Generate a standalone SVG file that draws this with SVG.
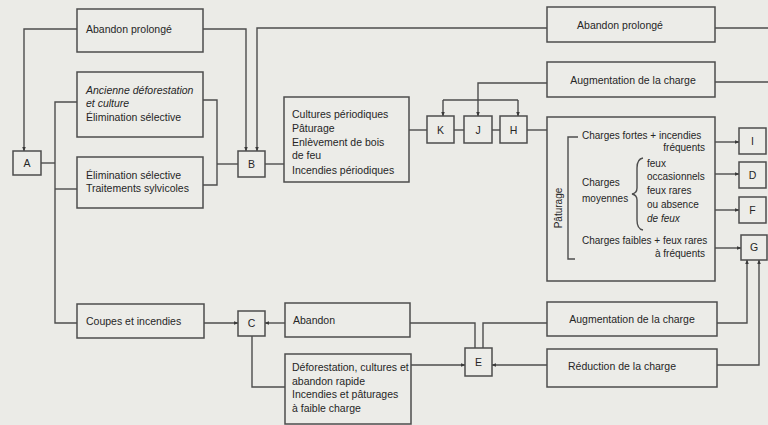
<svg xmlns="http://www.w3.org/2000/svg" width="768" height="425" viewBox="0 0 768 425">
<defs>
<style>
.bg{fill:#ebebe7}
.box{fill:#ecece8;stroke:#4d4d4d;stroke-width:1.5}
.t{font-family:"Liberation Sans",Arial,sans-serif;font-size:10.5px;fill:#262626}
.s{font-size:10px}
.i{font-style:italic}
.c{text-anchor:middle}
.r{text-anchor:end}
.ln{fill:none;stroke:#4d4d4d;stroke-width:1.4}
.ar{fill:none;stroke:#4d4d4d;stroke-width:1.4;marker-end:url(#ah)}
</style>
<marker id="ah" viewBox="0 0 8 8" refX="7" refY="4" markerWidth="5" markerHeight="5" markerUnits="userSpaceOnUse" orient="auto">
<path d="M0,1 L8,4 L0,7 z" fill="#3a3a3a"/>
</marker>
</defs>
<rect class="bg" x="0" y="0" width="768" height="425"/>

<g id="connectors">
<polyline class="ar" points="77,29 24,29 24,151"/>
<polyline class="ar" points="203,29 246,29 246,151"/>
<polyline class="ar" points="547,28 257,28 257,151"/>
<polyline class="ln" points="41,163 55,163"/>
<polyline class="ln" points="77,102 55,102 55,323 77,323"/>
<polyline class="ln" points="55,189 77,189"/>
<polyline class="ln" points="203,100 217,100 217,185 203,185"/>
<polyline class="ln" points="217,164 238,164"/>
<polyline class="ln" points="265,164 284,164"/>
<polyline class="ln" points="409,130 427,130"/>
<polyline class="ln" points="454,130 464,130"/>
<polyline class="ln" points="492,130 500,130"/>
<polyline class="ln" points="527,130 547,130"/>
<polyline class="ar" points="547,83 478,83 478,116"/>
<polyline class="ln" points="443,100 518,100"/>
<polyline class="ar" points="443,100 443,116"/>
<polyline class="ar" points="518,100 518,116"/>
<polyline class="ln" points="715,28 768,28"/>
<polyline class="ln" points="715,82 768,82"/>
<polyline class="ar" points="715,142 739,142"/>
<polyline class="ar" points="715,174 739,174"/>
<polyline class="ar" points="715,210 739,210"/>
<polyline class="ar" points="715,248 741,248"/>
<polyline class="ar" points="717,323 747,323 747,260"/>
<polyline class="ar" points="717,365 759,365 759,260"/>
<polyline class="ar" points="204,323 238,323"/>
<polyline class="ar" points="285,323 265,323"/>
<polyline class="ln" points="252,336 252,387 285,387"/>
<polyline class="ln" points="410,323 475,323 475,348"/>
<polyline class="ln" points="483,348 483,323 547,323"/>
<polyline class="ar" points="411,365 465,365"/>
<polyline class="ar" points="547,365 492,365"/>
</g>

<g id="n-abandon-prolonge-1">
<rect class="box" x="77" y="9" width="126" height="43"/>
<text class="t" x="86" y="33">Abandon prolongé</text>
</g>
<g id="n-ancienne">
<rect class="box" x="77" y="72" width="126" height="65"/>
<text class="t i" x="86" y="94">Ancienne déforestation</text>
<text class="t i" x="86" y="107">et culture</text>
<text class="t" x="86" y="121">Élimination sélective</text>
</g>
<g id="n-elimination">
<rect class="box" x="77" y="157" width="126" height="51"/>
<text class="t" x="86" y="179">Élimination sélective</text>
<text class="t" x="86" y="192">Traitements sylvicoles</text>
</g>
<g id="n-A">
<rect class="box" x="13" y="151" width="28" height="24"/>
<text class="t c" x="27" y="167">A</text>
</g>
<g id="n-B">
<rect class="box" x="238" y="151" width="27" height="26"/>
<text class="t c" x="251.5" y="168">B</text>
</g>
<g id="n-cultures">
<rect class="box" x="284" y="97" width="125" height="85"/>
<text class="t" x="292" y="118">Cultures périodiques</text>
<text class="t" x="292" y="132">Pâturage</text>
<text class="t" x="292" y="146">Enlèvement de bois</text>
<text class="t" x="292" y="159">de feu</text>
<text class="t" x="292" y="174">Incendies périodiques</text>
</g>
<g id="n-K">
<rect class="box" x="427" y="116" width="27" height="27"/>
<text class="t c" x="440.5" y="134">K</text>
</g>
<g id="n-J">
<rect class="box" x="464" y="116" width="28" height="27"/>
<text class="t c" x="478" y="134">J</text>
</g>
<g id="n-H">
<rect class="box" x="500" y="116" width="27" height="27"/>
<text class="t c" x="513.5" y="134">H</text>
</g>
<g id="n-abandon-prolonge-2">
<rect class="box" x="547" y="7" width="168" height="35"/>
<text class="t c" x="620" y="29">Abandon prolongé</text>
</g>
<g id="n-augmentation-1">
<rect class="box" x="547" y="62" width="168" height="35"/>
<text class="t c" x="633" y="84">Augmentation de la charge</text>
</g>
<g id="n-paturage">
<rect class="box" x="547" y="117" width="168" height="164"/>
<text class="t s c" transform="translate(562,208) rotate(-90)">Pâturage</text>
<polyline class="ln" points="578,137 568,137 568,259 575,259"/>
<text class="t s" x="582" y="139">Charges fortes + incendies</text>
<text class="t s r" x="705" y="151">fréquents</text>
<text class="t s" x="582" y="186">Charges</text>
<text class="t s" x="582" y="202">moyennes</text>
<path class="ln" d="M643,158 Q637,159 637,168 L637,188 Q637,193 632,194 Q637,195 637,200 L637,220 Q637,229 643,230" stroke-width="1.2"/>
<text class="t s" x="647" y="167">feux</text>
<text class="t s" x="647" y="180">occasionnels</text>
<text class="t s" x="647" y="194">feux rares</text>
<text class="t s" x="647" y="208">ou absence</text>
<text class="t s i" x="647" y="222">de feux</text>
<text class="t s" x="582" y="244">Charges faibles + feux rares</text>
<text class="t s r" x="705" y="257">à fréquents</text>
</g>
<g id="n-I">
<rect class="box" x="739" y="128" width="27" height="26"/>
<text class="t c" x="752.5" y="145">I</text>
</g>
<g id="n-D">
<rect class="box" x="739" y="162" width="27" height="26"/>
<text class="t c" x="752.5" y="179">D</text>
</g>
<g id="n-F">
<rect class="box" x="739" y="197" width="27" height="26"/>
<text class="t c" x="752.5" y="214">F</text>
</g>
<g id="n-G">
<rect class="box" x="741" y="235" width="26" height="25"/>
<text class="t c" x="754" y="251">G</text>
</g>
<g id="n-coupes">
<rect class="box" x="77" y="304" width="127" height="34"/>
<text class="t" x="86" y="325">Coupes et incendies</text>
</g>
<g id="n-C">
<rect class="box" x="238" y="311" width="27" height="25"/>
<text class="t c" x="251.5" y="327">C</text>
</g>
<g id="n-abandon">
<rect class="box" x="285" y="303" width="125" height="34"/>
<text class="t" x="293" y="324">Abandon</text>
</g>
<g id="n-deforestation">
<rect class="box" x="285" y="354" width="126" height="70"/>
<text class="t" x="292" y="371">Déforestation, cultures et</text>
<text class="t" x="292" y="385">abandon rapide</text>
<text class="t" x="292" y="398">Incendies et pâturages</text>
<text class="t" x="292" y="412">à faible charge</text>
</g>
<g id="n-E">
<rect class="box" x="465" y="348" width="27" height="28"/>
<text class="t c" x="478.5" y="366">E</text>
</g>
<g id="n-augmentation-2">
<rect class="box" x="547" y="302" width="170" height="34"/>
<text class="t c" x="632" y="323">Augmentation de la charge</text>
</g>
<g id="n-reduction">
<rect class="box" x="547" y="349" width="170" height="38"/>
<text class="t" x="568" y="370">Réduction de la charge</text>
</g>
</svg>
